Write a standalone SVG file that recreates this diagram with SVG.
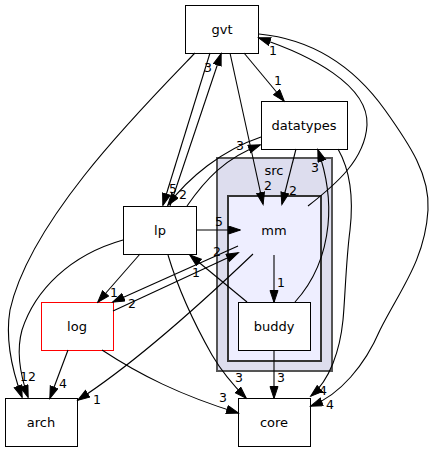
<svg xmlns="http://www.w3.org/2000/svg" width="433" height="452" viewBox="0 0 433 452">
<style>
text{font-family:"DejaVu Sans",sans-serif;font-size:13px;fill:#000;text-anchor:middle}
.lbl{font-size:12.5px}
.node{fill:#fff;stroke:#000;stroke-width:1}
.e{fill:none;stroke:#000;stroke-width:1.1;marker-end:url(#ah)}
</style>
<defs>
<marker id="ah" markerUnits="userSpaceOnUse" markerWidth="14" markerHeight="10" refX="12" refY="4.5" orient="auto">
<path d="M0.5,0.5 L12.5,4.5 L0.5,8.5 z" fill="#000" stroke="#000" stroke-width="1"/>
</marker>
</defs>
<rect width="433" height="452" fill="#fff"/>
<g id="cluster_src">
<rect x="217" y="158" width="115" height="213" fill="#ddddee" stroke="#555" stroke-width="2"/>
<text x="274" y="175">src</text>
</g>
<g id="cluster_mm">
<rect x="228" y="196" width="93" height="165" fill="#eeeeff" stroke="#333" stroke-width="2"/>
</g>
<g id="mm"><text x="274" y="235">mm</text></g>
<g id="gvt"><rect class="node" x="185.5" y="5.5" width="73" height="48"/><text x="222" y="34">gvt</text></g>
<g id="datatypes"><rect class="node" x="261.5" y="101.5" width="86" height="48"/><text x="304" y="130">datatypes</text></g>
<g id="lp"><rect class="node" x="123.5" y="206.5" width="73" height="48"/><text x="160" y="235">lp</text></g>
<g id="log"><rect class="node" x="41.5" y="302.5" width="72" height="48" style="stroke:#ff0000"/><text x="77" y="331">log</text></g>
<g id="buddy"><rect class="node" x="238.5" y="302.5" width="72" height="48"/><text x="274" y="331">buddy</text></g>
<g id="arch"><rect class="node" x="5.5" y="398.5" width="72" height="48"/><text x="41" y="427">arch</text></g>
<g id="core"><rect class="node" x="238.5" y="398.5" width="72" height="48"/><text x="274" y="427">core</text></g>
<g id="connectors">
<path class="e" d="M244,53 L284,101"/>
<text class="lbl" x="278" y="85">1</text>
<path class="e" d="M308,206 C335,185 365,160 367,125 C369,85 310,55 259,38"/>
<text class="lbl" x="273" y="55">1</text>
<path class="e" d="M259,34 C320,40 360,75 385,110 C410,145 430,175 428,210 C425,260 400,290 380,330 C365,365 340,395 311,406"/>
<text class="lbl" x="330" y="409">4</text>
<path class="e" d="M338,149 C350,170 354,195 350,230 C346,260 345,300 343,320 C340,350 330,380 311,396"/>
<text class="lbl" x="323" y="395">4</text>
<path class="e" d="M295,302 C315,280 325,255 328,225 C331,195 325,170 318,150"/>
<text class="lbl" x="315" y="172">3</text>
<path class="e" d="M296,149 L282,204"/>
<text class="lbl" x="293" y="195">2</text>
<path class="e" d="M230,53 L263,204"/>
<text class="lbl" x="268" y="190">2</text>
<path class="e" d="M210,53 L163,205"/>
<text class="lbl" x="173" y="193">5</text>
<path class="e" d="M170,206 L221,54"/>
<text class="lbl" x="208" y="72">3</text>
<path class="e" d="M261,137 C222,150 188,178 168,205"/>
<text class="lbl" x="183" y="199">2</text>
<path class="e" d="M187,206 C205,180 225,158 260,145"/>
<text class="lbl" x="240" y="150">3</text>
<path class="e" d="M195,53 C140,110 30,220 10,310 C5,340 12,370 22,397"/>
<path class="e" d="M123,240 C70,255 35,290 22,330 C15,355 22,380 28,397"/>
<text class="lbl" x="24" y="381">1</text>
<text class="lbl" x="32" y="381">2</text>
<path class="e" d="M140,254 L98,302"/>
<text class="lbl" x="114" y="297">1</text>
<path class="e" d="M238,246 L113,302"/>
<text class="lbl" x="132" y="308">2</text>
<path class="e" d="M113,311 L238,253"/>
<text class="lbl" x="217" y="256">2</text>
<path class="e" d="M247,302 L190,255"/>
<text class="lbl" x="196" y="277">1</text>
<path class="e" d="M253,254 C210,295 140,360 78,400"/>
<text class="lbl" x="97" y="404">1</text>
<path class="e" d="M168,255 C180,295 195,325 212,355 C222,372 235,387 246,398"/>
<text class="lbl" x="239" y="382">3</text>
<path class="e" d="M102,350 C140,375 180,395 238,413"/>
<text class="lbl" x="223" y="402">3</text>
<path class="e" d="M68,350 L50,398"/>
<text class="lbl" x="63" y="388">4</text>
<path class="e" d="M274,350 L274,398"/>
<text class="lbl" x="281" y="382">3</text>
<path class="e" d="M274,255 L274,302"/>
<text class="lbl" x="281" y="287">1</text>
<path class="e" d="M196,230 L240,230"/>
<text class="lbl" x="219" y="226">5</text>
</g>
</svg>
